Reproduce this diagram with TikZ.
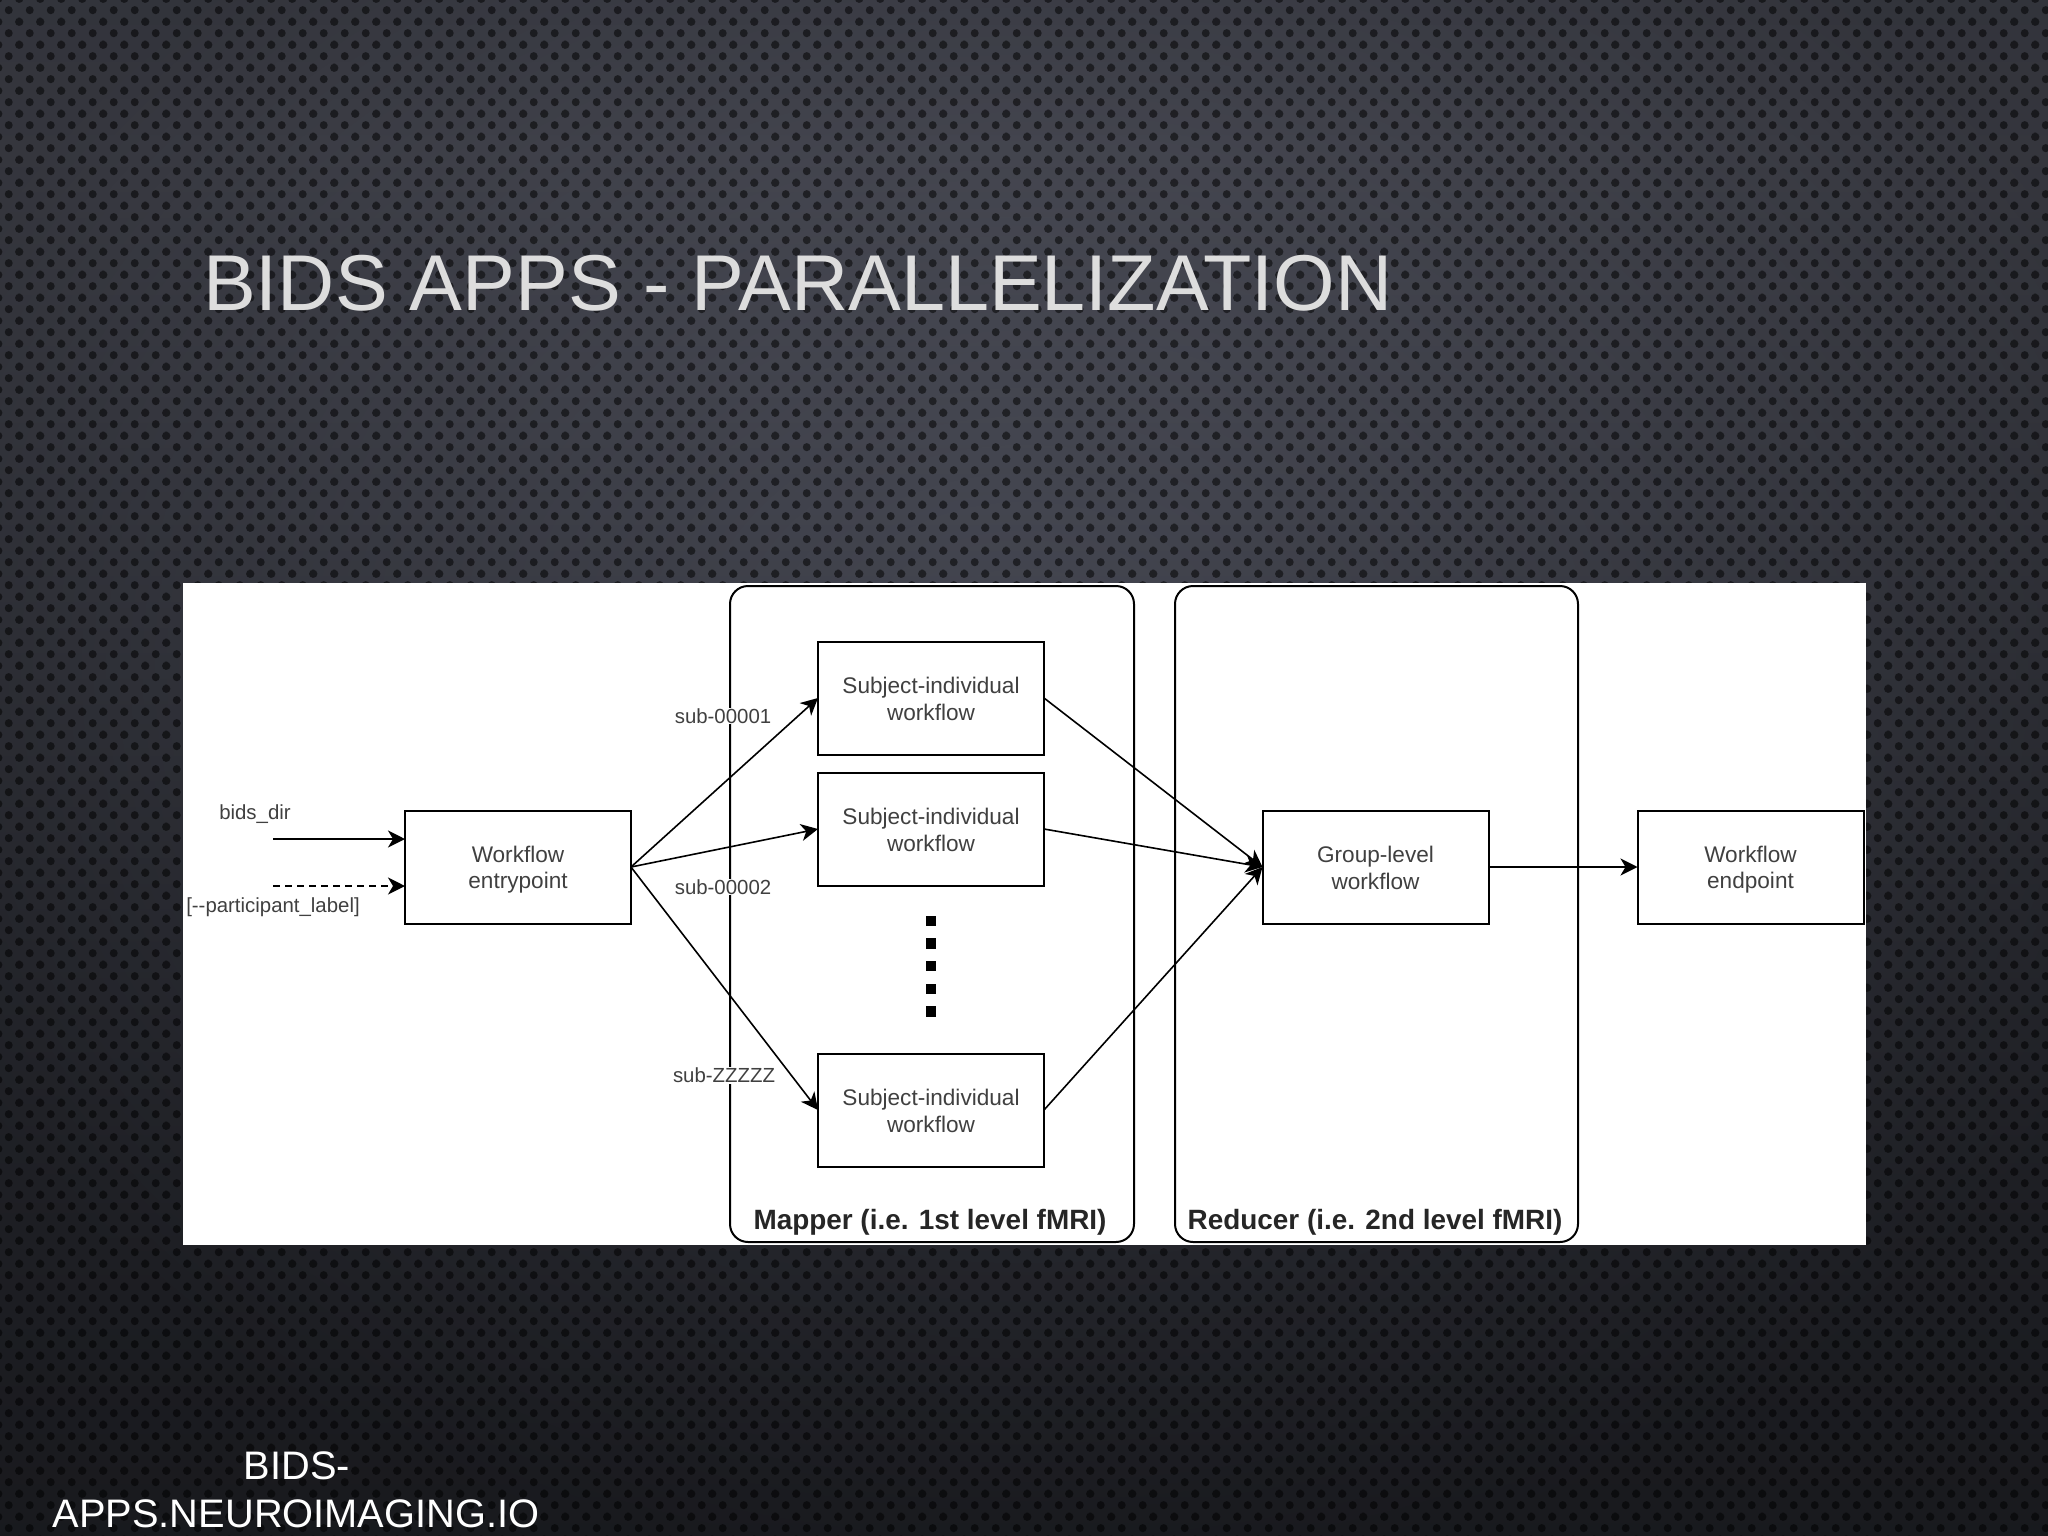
\documentclass[tikz,border=0pt]{standalone}
\usepackage{fontspec}
\setmainfont{Liberation Sans}
\usetikzlibrary{arrows.meta,fadings,patterns}
\definecolor{bgA}{HTML}{3D3F4B}
\definecolor{bgB}{HTML}{565864}
\definecolor{bgC}{HTML}{383A43}
\definecolor{bgD}{HTML}{212228}
\definecolor{bgE}{HTML}{18191E}
\definecolor{inktext}{HTML}{404040}
\definecolor{titletext}{HTML}{DDDDDD}
\tikzfading[name=vign, inner color=transparent!100, middle color=transparent!95, outer color=transparent!62]
\pgfdeclareverticalshading{slidebg}{100bp}{
  color(0bp)=(bgE); color(16bp)=(bgD); color(45bp)=(bgC); color(70bp)=(bgB); color(100bp)=(bgA)}
\pgfdeclarepatternformonly{perfdots}{\pgfqpoint{0pt}{0pt}}{\pgfqpoint{21.3pt}{22.84pt}}{\pgfqpoint{21.3pt}{22.84pt}}{
  \pgfpathcircle{\pgfqpoint{10.05pt}{7.9pt}}{4.1pt}
  \pgfpathcircle{\pgfqpoint{20.7pt}{19.3pt}}{4.1pt}
  \pgfpathcircle{\pgfqpoint{-0.6pt}{19.3pt}}{4.1pt}
  \pgfpathcircle{\pgfqpoint{20.7pt}{-3.54pt}}{4.1pt}
  \pgfpathcircle{\pgfqpoint{-0.6pt}{-3.54pt}}{4.1pt}
  \pgfusepath{fill}
}
\newcommand{\lnstrut}{\rule[-4pt]{0pt}{26pt}}
\tikzset{
  boxnode/.style={draw=black,fill=white,line width=2pt,minimum width=226pt,minimum height=113pt,inner sep=0pt,outer sep=0pt,
    align=center,text=inktext,font=\fontsize{22.6}{26.5}\selectfont},
  container/.style={draw=black,line width=2pt,rounded corners=18pt,inner sep=0pt,outer sep=0pt},
  lbl/.style={fill=white,inner sep=1pt,text=inktext,font=\fontsize{20.4}{24}\selectfont},
  plainlbl/.style={inner sep=0pt,text=inktext,font=\fontsize{20.4}{24}\selectfont},
  grouplbl/.style={inner sep=0pt,text=black!85,font=\fontsize{27.9}{32}\selectfont\bfseries},
  conn/.style={draw=black,line width=2pt,-{Stealth[length=17pt,width=17pt,inset=5pt]}},
  conn2/.style={draw=black,line width=1.6pt,-{Stealth[length=17pt,width=17pt,inset=5pt]}},
  dotnode/.style={fill=black,minimum size=10.5pt,inner sep=0pt,outer sep=0pt}
}
\begin{document}
\begin{tikzpicture}[x=1pt,y=-1pt]
\useasboundingbox (0,0) rectangle (2048,1536);
% background
\shade[shading=slidebg,shading angle=0] (0,0) rectangle (2048,1536);
\fill[black,path fading=vign,fit fading=true] (-150,-250) rectangle (2198,1586);
\fill[pattern=perfdots,pattern color=black,opacity=.52] (0,0) rectangle (2048,1536);
% title and footer
\node[anchor=base west,inner sep=0pt,text=titletext,font=\fontsize{79.15}{90}\selectfont] (title) at (203,310) {BIDS APPS - PARALLELIZATION};
\node[anchor=base,inner sep=0pt,text=white,font=\fontsize{39.8}{48}\selectfont] (foot1) at (297,1479) {BIDS-};
\node[anchor=base,inner sep=0pt,text=white,font=\fontsize{39.8}{48}\selectfont] (foot2) at (296,1527) {APPS.NEUROIMAGING.IO};
% panel
\fill[white] (182.5,582.5) rectangle (1866,1245);
\node[container,minimum width=404pt,minimum height=656pt] (mapper) at (932,914) {};
\node[container,minimum width=403pt,minimum height=656pt] (reducer) at (1376.5,914) {};
\node[grouplbl] (mapperlbl) at (930,1222) {Mapper (i.e. 1st level fMRI)};
\node[grouplbl] (reducerlbl) at (1375,1222) {Reducer (i.e. 2nd level fMRI)};
% labels
\node[plainlbl] (lbids) at (255,814) {bids\_dir};
\node[plainlbl] (lpart) at (273,907) {[-{}-participant\_label]};
\node[lbl] (l1) at (723,716) {sub-00001};
\node[lbl] (l2) at (723,887) {sub-00002};
\node[lbl] (l3) at (724,1075) {sub-ZZZZZ};
% boxes
\node[boxnode] (entry) at (518,867) {\lnstrut Workflow\\\lnstrut entrypoint};
\node[boxnode] (sub1) at (931,698) {\lnstrut Subject-individual\\\lnstrut workflow};
\node[boxnode] (sub2) at (931,829) {\lnstrut Subject-individual\\\lnstrut workflow};
\node[boxnode] (sub3) at (931,1110) {\lnstrut Subject-individual\\\lnstrut workflow};
\node[boxnode] (group) at (1375.5,867) {\lnstrut Group-level\\\lnstrut workflow};
\node[boxnode] (endp) at (1750.5,867) {\lnstrut Workflow\\\lnstrut endpoint};
\foreach \n/\y in {1/921,2/943.5,3/966,4/989,5/1011.5}{
  \node[dotnode] (dot\n) at (931,\y) {};
}
% connectors
\coordinate (bidsstart) at (273,839);
\coordinate (bidsend) at (entry.west |- bidsstart);
\coordinate (partstart) at (273,886);
\coordinate (partend) at (entry.west |- partstart);
\draw[conn] (bidsstart) -- (bidsend);
\draw[conn2,dash pattern=on 7pt off 5pt] (partstart) -- (partend);
\draw[conn2] (entry.east) -- (sub1.west);
\draw[conn2] (entry.east) -- (sub2.west);
\draw[conn2] (entry.east) -- (sub3.west);
\draw[conn2] (sub1.east) -- (group.west);
\draw[conn2] (sub2.east) -- (group.west);
\draw[conn2] (sub3.east) -- (group.west);
\draw[conn] (group.east) -- (endp.west);
\end{tikzpicture}
\end{document}
